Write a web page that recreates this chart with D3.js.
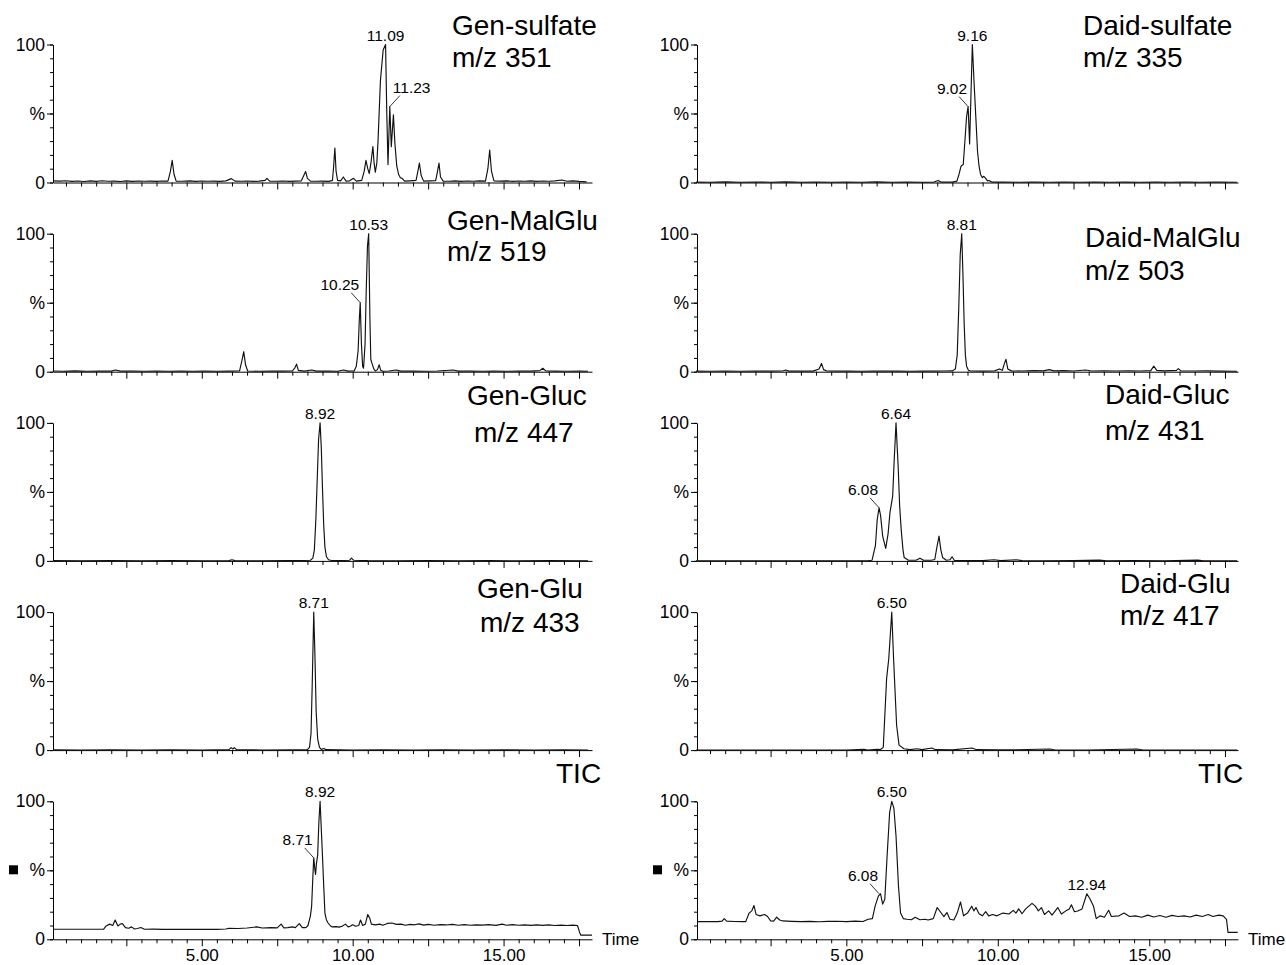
<!DOCTYPE html>
<html><head><meta charset="utf-8">
<script src="https://cdn.jsdelivr.net/npm/d3@7"></script>
<style>
body{margin:0;background:#fff}
svg{display:block}
text{font-family:"Liberation Sans",Arial,Helvetica,sans-serif;fill:#000}
</style>
</head><body>
<svg id="chart" width="1286" height="965"></svg>
<script>
// ---------------- DATA (time in min, intensity in %) ----------------
const genSulfate = [[0.07,1.2],[0.3,1.0],[0.5,1.3],[0.7,0.8],[0.9,1.1],[1.1,0.7],[1.3,1.2],[1.5,0.8],[1.7,1.3],[1.9,0.9],[2.1,1.0],[2.3,0.7],[2.5,1.2],[2.7,0.8],[2.9,1.1],[3.1,0.9],[3.3,1.0],[3.5,0.8],[3.7,1.1],[3.88,1.0],[3.96,8],[4.02,16],[4.08,6],[4.15,1.0],[4.35,0.9],[4.6,1.2],[4.8,0.8],[5.0,1.1],[5.2,0.9],[5.4,1.0],[5.6,0.8],[5.8,1.2],[5.98,2.8],[6.1,1.0],[6.3,0.9],[6.5,1.1],[6.7,0.8],[6.9,1.0],[7.1,1.5],[7.16,3],[7.25,1.0],[7.45,0.9],[7.7,1.1],[7.9,0.8],[8.1,1.0],[8.3,1.2],[8.38,5],[8.44,8],[8.5,3],[8.6,1.0],[8.8,0.9],[9.0,1.0],[9.2,0.8],[9.33,1.5],[9.37,12],[9.41,25],[9.45,8],[9.5,1.5],[9.6,1.2],[9.69,4],[9.78,1.0],[9.9,1.2],[10.03,3],[10.12,1.0],[10.3,1.5],[10.38,8],[10.44,16],[10.5,10],[10.55,6.5],[10.61,15],[10.67,26],[10.71,14],[10.75,7.5],[10.8,14],[10.84,30],[10.92,74],[11.01,96],[11.09,100],[11.13,50],[11.17,13],[11.23,55],[11.28,26],[11.35,49],[11.40,28],[11.46,12],[11.52,6],[11.58,3.5],[11.64,3],[11.72,1.0],[11.9,1.2],[12.1,1.5],[12.16,8],[12.21,14],[12.27,5],[12.35,1.0],[12.55,1.2],[12.75,1.3],[12.81,8],[12.86,14],[12.91,4],[13.0,1.0],[13.2,0.9],[13.4,1.2],[13.6,0.8],[13.8,1.1],[14.0,0.9],[14.2,1.2],[14.4,1.0],[14.48,10],[14.54,23.5],[14.6,8],[14.68,1.2],[14.9,1.0],[15.1,1.2],[15.3,0.8],[15.5,1.1],[15.7,0.9],[15.9,1.2],[16.1,0.8],[16.3,1.1],[16.5,0.9],[16.7,1.2],[16.93,1.8],[17.1,0.9],[17.3,1.2],[17.5,0.8],[17.75,0.5]];

const genMalGlu = [[0.07,0.5],[0.4,0.3],[0.8,0.6],[1.2,0.3],[1.6,0.5],[2.0,0.4],[2.14,1.2],[2.3,0.4],[2.7,0.5],[3.1,0.3],[3.5,0.5],[3.9,0.3],[4.3,0.5],[4.7,0.3],[5.1,0.5],[5.5,0.3],[5.9,0.4],[6.25,0.5],[6.33,8],[6.39,14.5],[6.45,5],[6.52,0.5],[6.9,0.3],[7.3,0.5],[7.7,0.4],[8.0,0.5],[8.09,3],[8.14,5.5],[8.2,1],[8.4,0.4],[8.64,1.2],[8.8,0.4],[9.2,0.5],[9.5,0.3],[9.69,1.2],[9.85,0.4],[10.05,0.5],[10.12,4],[10.18,15],[10.22,38],[10.25,50],[10.29,20],[10.33,4],[10.36,2.5],[10.41,20],[10.45,60],[10.49,91],[10.53,100],[10.57,40],[10.6,9],[10.64,6],[10.7,2],[10.75,0.5],[10.82,1.5],[10.88,5],[10.93,1],[11.0,0.3],[11.2,0.5],[11.44,1.2],[11.6,0.4],[12.0,0.5],[12.4,0.3],[12.8,0.5],[13.33,1.2],[13.5,0.4],[13.9,0.5],[14.3,0.3],[14.7,0.5],[15.1,0.3],[15.5,0.5],[15.9,0.4],[16.2,0.8],[16.3,2.5],[16.4,0.6],[16.7,0.4],[17.1,0.3],[17.5,0.4],[17.8,0.3]];

const genGluc = [[0.07,0.2],[1,0.1],[2,0.2],[3,0.1],[4,0.2],[5,0.1],[5.9,0.2],[6.0,0.8],[6.1,0.2],[7,0.1],[7.8,0.2],[8.4,0.3],[8.6,0.5],[8.68,2],[8.73,8],[8.78,30],[8.83,62],[8.87,88],[8.92,100],[8.96,82],[9.0,52],[9.04,26],[9.08,10],[9.13,3],[9.2,0.8],[9.3,0.3],[9.6,0.2],[9.9,0.5],[9.96,2],[10.03,0.5],[10.5,0.2],[11.5,0.1],[12.5,0.2],[13.5,0.1],[14.5,0.2],[15.5,0.1],[16.5,0.2],[17.8,0.1]];

const genGlu = [[0.07,0.2],[1,0.1],[2,0.2],[3,0.1],[4,0.2],[5,0.1],[5.9,0.3],[5.97,1.8],[6.03,0.8],[6.08,1.8],[6.15,0.3],[7,0.1],[8,0.2],[8.5,0.3],[8.57,2],[8.62,12],[8.66,48],[8.71,100],[8.75,68],[8.79,28],[8.84,8],[8.9,2],[8.96,0.5],[9.05,1.2],[9.12,0.3],[10,0.1],[11,0.2],[12,0.1],[13,0.2],[14,0.1],[15,0.2],[16,0.1],[17,0.2],[17.8,0.1]];

const ticGen = [[0.07,7.3],[0.5,7.3],[1.0,7.3],[1.5,7.3],[1.75,7.4],[1.83,9.7],[1.95,11],[2.05,10],[2.13,14],[2.22,9.7],[2.3,11],[2.37,11.4],[2.47,8.5],[2.58,8],[2.67,9],[2.77,7.5],[2.87,7.8],[2.98,8.5],[3.1,7.3],[3.4,7.4],[3.7,7.2],[4.0,7.3],[4.3,7.2],[4.6,7.3],[4.9,7.2],[5.2,7.3],[5.5,7.2],[5.8,7.5],[5.9,8],[6.2,7.8],[6.5,8.2],[6.82,9],[7.0,8.2],[7.3,8.5],[7.5,8.3],[7.63,11],[7.72,8.3],[7.85,8.5],[8.0,9],[8.1,8.5],[8.23,11.4],[8.33,8.5],[8.45,8.5],[8.52,10],[8.6,17],[8.64,24],[8.68,45],[8.71,59],[8.75,50],[8.77,47],[8.8,55],[8.84,61],[8.88,85],[8.92,100],[8.96,80],[9.0,60],[9.04,39],[9.08,19],[9.13,14],[9.18,12],[9.25,10],[9.31,9],[9.45,9.2],[9.55,8.8],[9.65,9.5],[9.76,11],[9.85,9],[9.92,9.5],[10.0,10.5],[10.1,9.5],[10.2,10],[10.26,14],[10.33,10],[10.42,11],[10.5,18],[10.57,15],[10.62,11],[10.75,10.5],[10.9,11],[11.0,10.2],[11.15,11.5],[11.3,11.8],[11.45,10.8],[11.6,11],[11.75,10.2],[11.9,10.8],[12.05,10.5],[12.2,11.2],[12.35,10.3],[12.5,10.8],[12.7,10.2],[12.9,10.6],[13.1,10.4],[13.3,10.8],[13.5,10.2],[13.7,10.6],[13.9,10.2],[14.1,10.5],[14.3,10.3],[14.5,10.6],[14.75,10.1],[14.95,11],[15.1,10.2],[15.3,10.6],[15.5,10.2],[15.7,10.5],[15.9,10.1],[16.1,10.4],[16.3,10.1],[16.5,10.5],[16.7,10.0],[16.9,10.3],[17.1,10.0],[17.3,10.3],[17.45,10.0],[17.52,5],[17.56,3],[17.93,3]];

const daidSulfate = [[0.04,0.3],[0.5,0.2],[1,0.4],[1.5,0.2],[2,0.3],[2.5,0.2],[3,0.4],[3.5,0.2],[4,0.3],[4.5,0.2],[5,0.3],[5.5,0.2],[6,0.4],[6.5,0.2],[7,0.3],[7.5,0.2],[7.9,0.3],[8.03,1.5],[8.12,0.3],[8.5,0.3],[8.65,1],[8.72,6],[8.79,12],[8.86,13],[8.93,35],[8.97,48],[9.02,55],[9.07,28],[9.11,60],[9.16,100],[9.22,71],[9.28,45],[9.33,23],[9.38,12],[9.43,6],[9.49,3.5],[9.54,4.5],[9.6,3],[9.66,1.2],[9.71,1.5],[9.8,0.3],[10.2,0.3],[10.7,0.2],[11.2,0.3],[11.7,0.2],[12.2,0.3],[12.7,0.2],[13.2,0.3],[13.7,0.2],[14.2,0.3],[14.7,0.2],[15.2,0.3],[15.7,0.2],[16.2,0.3],[16.7,0.2],[17.2,0.3],[17.9,0.2]];

const daidMalGlu = [[0.04,0.4],[0.5,0.3],[1,0.5],[1.5,0.3],[2,0.5],[2.5,0.4],[2.9,0.5],[3.0,1.2],[3.1,0.4],[3.5,0.5],[3.9,0.4],[4.1,2],[4.18,6],[4.25,1.5],[4.35,0.5],[4.7,0.4],[5.1,0.5],[5.5,0.3],[5.9,0.5],[6.3,0.4],[6.7,0.5],[7.1,0.3],[7.5,0.5],[7.9,0.4],[8.2,0.5],[8.5,0.6],[8.6,2],[8.66,12],[8.71,45],[8.76,85],[8.81,100],[8.85,70],[8.89,35],[8.93,12],[8.97,4],[9.03,1],[9.1,0.5],[9.5,0.4],[9.9,0.6],[10.05,2],[10.15,1],[10.22,6],[10.27,9],[10.33,2],[10.45,0.6],[10.8,0.5],[11.2,0.8],[11.5,0.6],[11.7,1.5],[11.85,0.6],[12.2,0.8],[12.5,0.5],[12.9,1.2],[13.1,0.5],[13.5,0.6],[13.9,0.5],[14.3,0.6],[14.7,0.5],[15.05,0.8],[15.15,4],[15.25,1],[15.5,0.6],[15.9,1],[15.96,2.2],[16.05,0.6],[16.5,0.5],[16.9,0.6],[17.3,0.4],[17.9,0.3]];

const daidGluc = [[0.04,0.1],[1,0.1],[2,0.1],[3,0.1],[4,0.1],[5,0.1],[5.7,0.1],[5.85,0.5],[5.96,11],[6.02,30],[6.08,38.5],[6.13,33],[6.2,18],[6.3,9],[6.38,20],[6.44,35],[6.53,47],[6.58,73],[6.64,100],[6.71,69],[6.76,40],[6.81,23],[6.87,8],[6.91,2.4],[7.05,0.5],[7.3,0.5],[7.43,2],[7.55,0.5],[7.8,0.5],[7.92,1],[7.99,10],[8.06,18],[8.12,8],[8.18,2.4],[8.3,0.5],[8.42,0.8],[8.49,3],[8.57,0.3],[9,0.2],[9.5,0.2],[9.88,0.8],[10.1,0.2],[10.61,0.8],[10.8,0.2],[11.5,0.1],[12.5,0.2],[13.35,0.6],[13.6,0.1],[14.5,0.2],[15.5,0.1],[16.6,0.6],[16.8,0.1],[17.9,0.1]];

const daidGlu = [[0.04,0.1],[1,0.1],[2,0.1],[3,0.1],[4,0.1],[5,0.1],[5.58,0.6],[5.7,0.1],[6.02,0.6],[6.12,0.3],[6.22,2],[6.33,52],[6.4,66],[6.5,100],[6.56,66],[6.66,18],[6.74,3.6],[6.9,1],[7.1,0.3],[7.34,1],[7.5,0.3],[7.82,1.5],[7.95,0.3],[8.5,0.2],[9.15,1.5],[9.3,0.3],[10,0.2],[10.5,0.2],[11.72,0.8],[11.9,0.1],[13,0.1],[14.59,0.8],[14.8,0.1],[16,0.1],[17.9,0.1]];

const ticDaid = [[0.08,12.8],[0.4,12.9],[0.75,12.8],[0.9,13.2],[0.97,15],[1.05,13.2],[1.3,12.9],[1.6,12.8],[1.68,12.8],[1.79,19],[1.88,20.6],[1.95,24.5],[2.02,18],[2.15,17],[2.3,18],[2.4,16.5],[2.5,13.4],[2.6,13.2],[2.7,16],[2.8,14],[2.9,13.3],[3.2,13.0],[3.5,12.8],[3.8,13.0],[4.1,12.7],[4.4,13.0],[4.7,13.1],[5.0,12.8],[5.3,13.2],[5.55,12.9],[5.72,14.5],[5.86,15],[5.95,24],[6.06,31.5],[6.13,33],[6.2,25.5],[6.27,29],[6.34,58],[6.43,92],[6.5,100],[6.57,95],[6.64,75],[6.72,39],[6.79,19],[6.88,15],[7.0,14.5],[7.15,14.2],[7.27,16],[7.43,14.2],[7.6,14.5],[7.7,14],[7.87,15],[8.0,23],[8.12,19.4],[8.22,16.5],[8.32,19.4],[8.42,14.5],[8.55,14],[8.66,19],[8.77,27],[8.87,17],[9.0,19],[9.14,24],[9.21,20.6],[9.28,23],[9.38,18.5],[9.49,17],[9.6,20],[9.7,17],[9.83,18],[9.97,17],[10.17,19],[10.37,18.3],[10.51,21],[10.6,19],[10.69,22],[10.8,18.5],[10.92,22],[11.13,26],[11.24,24],[11.34,20.6],[11.44,23],[11.54,18],[11.68,20.6],[11.79,17.5],[11.98,23],[12.1,18.3],[12.25,20.6],[12.36,22],[12.43,25],[12.53,20],[12.64,20.5],[12.78,22],[12.94,33],[13.05,29],[13.16,24],[13.25,15],[13.38,17],[13.52,16],[13.66,21],[13.75,16.5],[14.0,17],[14.17,19],[14.35,16.5],[14.55,17],[14.75,16],[14.95,17.5],[15.15,16.2],[15.35,17.2],[15.55,16],[15.75,17.3],[15.95,16.5],[16.15,17],[16.35,16.2],[16.55,17.5],[16.75,16.5],[16.95,18],[17.1,16.5],[17.3,17.5],[17.44,17],[17.55,14.5],[17.6,5],[17.92,5]];

// peak annotations: [label, time, intensity, placement]
const peaksGenSulfate = [["11.09",11.09,100,"top"],["11.23",11.23,55,"right"]];
const peaksGenMalGlu = [["10.53",10.53,100,"top"],["10.25",10.25,50,"left"]];
const peaksGenGluc = [["8.92",8.92,100,"top"]];
const peaksGenGlu = [["8.71",8.71,100,"top"]];
const peaksTicGen = [["8.92",8.92,100,"top"],["8.71",8.71,59,"left"]];
const peaksDaidSulfate = [["9.16",9.16,100,"top"],["9.02",9.02,55,"left"]];
const peaksDaidMalGlu = [["8.81",8.81,100,"top"]];
const peaksDaidGluc = [["6.64",6.64,100,"top"],["6.08",6.08,38.5,"left"]];
const peaksDaidGlu = [["6.50",6.50,100,"top"]];
const peaksTicDaid = [["6.50",6.50,100,"top"],["6.08",6.08,33,"left"],["12.94",12.94,33,"top"]];

// titles
const titlesLeft = [["Gen-sulfate","m/z 351"],["Gen-MalGlu","m/z 519"],["Gen-Gluc","m/z 447"],["Gen-Glu","m/z 433"],["TIC"]];
const titlesRight = [["Daid-sulfate","m/z 335"],["Daid-MalGlu","m/z 503"],["Daid-Gluc","m/z 431"],["Daid-Glu","m/z 417"],["TIC"]];

// axis ticks
const xMinorTicks = d3.range(1, 36).map(i => i * 0.5);
const xMajorTicks = [2.5, 5, 7.5, 10, 12.5, 15, 17.5];
const xLabelTicks = [5, 10, 15];
const yMinorTicks = [0,10,20,30,40,50,60,70,80,90,100];
const yMajorTicks = [0,50,100];
const yTickText = {0:"0",50:"%",100:"100"};

// ---------------- LAYOUT ----------------
const timeDomain = [0.07, 17.93];
const colRanges = [[53, 592], [697, 1238]];
const rowTop = i => 44.5 + 189.2 * i;
const rowH = 138;
// title placement per panel: [x line1, x line2, centre-y offset line1, offset line2] relative to y100
const titleLayoutLeft = [[452,452,-20,12],[447,447,-14,17],[467,474,-28,9],[477,480,-24,10],[556,0,-28,0]];
const titleLayoutRight = [[1083,1083,-20,12],[1085,1085,3,36],[1105,1105,-29,7],[1120,1120,-29,3],[1198,0,-28,0]];

const seriesLeft = [genSulfate, genMalGlu, genGluc, genGlu, ticGen];
const seriesRight = [daidSulfate, daidMalGlu, daidGluc, daidGlu, ticDaid];
const peaksLeft = [peaksGenSulfate, peaksGenMalGlu, peaksGenGluc, peaksGenGlu, peaksTicGen];
const peaksRight = [peaksDaidSulfate, peaksDaidMalGlu, peaksDaidGluc, peaksDaidGlu, peaksTicDaid];

const svg = d3.select("#chart");
svg.append("rect").attr("width",1286).attr("height",965).attr("fill","#fff");

function drawPanel(col, row, data, peaks, title, tl) {
  const x = d3.scaleLinear().domain(timeDomain).range(colRanges[col]);
  const y0 = rowTop(row) + rowH, y100 = rowTop(row);
  const y = d3.scaleLinear().domain([0, 100]).range([y0, y100]);
  const g = svg.append("g");
  const isBottom = row === 4;

  // x axis minor
  const gx = g.append("g").attr("transform", `translate(0,${y0})`);
  gx.call(d3.axisBottom(x).tickValues(xMinorTicks.filter(v => v % 2.5 !== 0)).tickSize(4).tickSizeOuter(0).tickFormat(""));
  const gx2 = g.append("g").attr("transform", `translate(0,${y0})`);
  gx2.call(d3.axisBottom(x).tickValues(xMajorTicks).tickSize(7).tickSizeOuter(0)
      .tickFormat(d => (isBottom && xLabelTicks.includes(d)) ? d3.format(".2f")(d) : "").tickPadding(3));
  gx2.select(".domain").remove();
  [gx, gx2].forEach(a => { a.selectAll("line,path").attr("stroke","#000").attr("stroke-width",1);
      a.selectAll("text").attr("font-size",17).attr("font-family",'"Liberation Sans",Arial,sans-serif').attr("fill","#000"); });

  // y axis
  const gy = g.append("g").attr("transform", `translate(${colRanges[col][0]},0)`);
  gy.call(d3.axisLeft(y).tickValues(yMinorTicks).tickSize(3).tickSizeOuter(0).tickFormat(""));
  const gy2 = g.append("g").attr("transform", `translate(${colRanges[col][0]},0)`);
  gy2.call(d3.axisLeft(y).tickValues(yMajorTicks).tickSize(6).tickPadding(2).tickFormat(d => yTickText[d]));
  gy2.select(".domain").remove();
  [gy, gy2].forEach(a => { a.selectAll("line,path").attr("stroke","#000").attr("stroke-width",1);
      a.selectAll("text").attr("font-size",17.5).attr("font-family",'"Liberation Sans",Arial,sans-serif').attr("fill","#000"); });

  // TIC marker square
  if (isBottom) {
    g.append("rect").attr("x", colRanges[col][0] - 44).attr("y", y(50) - 5).attr("width", 9).attr("height", 9).attr("fill", "#000");
    g.append("text").attr("x", colRanges[col][1] + 10).attr("y", y0 + 6)
      .attr("font-size", 17).text("Time");
  }

  // trace
  const line = d3.line().x(d => x(d[0])).y(d => y(d[1]));
  g.append("path").datum(data).attr("d", line).attr("fill","none")
    .attr("stroke","#111").attr("stroke-width",1.15).attr("stroke-linejoin","round");

  // peak labels
  peaks.forEach(([lab, t, v, pos]) => {
    const px = x(t), py = y(v);
    if (pos === "top") {
      g.append("text").attr("x", px).attr("y", py - 4).attr("text-anchor","middle").attr("font-size",15.5).text(lab);
    } else if (pos === "left") {
      g.append("line").attr("x1", px).attr("y1", py).attr("x2", px - 9).attr("y2", py - 10).attr("stroke","#000").attr("stroke-width",0.8);
      g.append("text").attr("x", px - 1).attr("y", py - 13).attr("text-anchor","end").attr("font-size",15.5).text(lab);
    } else {
      g.append("line").attr("x1", px).attr("y1", py).attr("x2", px + 10).attr("y2", py - 11).attr("stroke","#000").attr("stroke-width",0.8);
      g.append("text").attr("x", px + 3).attr("y", py - 14).attr("text-anchor","start").attr("font-size",15.5).text(lab);
    }
  });

  // title
  g.append("text").attr("x", tl[0]).attr("y", y100 + tl[2] + 10).attr("font-size", 28).text(title[0]);
  if (title[1]) g.append("text").attr("x", tl[1]).attr("y", y100 + tl[3] + 10).attr("font-size", 28).text(title[1]);
}

for (let r = 0; r < 5; r++) {
  drawPanel(0, r, seriesLeft[r], peaksLeft[r], titlesLeft[r], titleLayoutLeft[r]);
  drawPanel(1, r, seriesRight[r], peaksRight[r], titlesRight[r], titleLayoutRight[r]);
}
</script>
</body></html>
